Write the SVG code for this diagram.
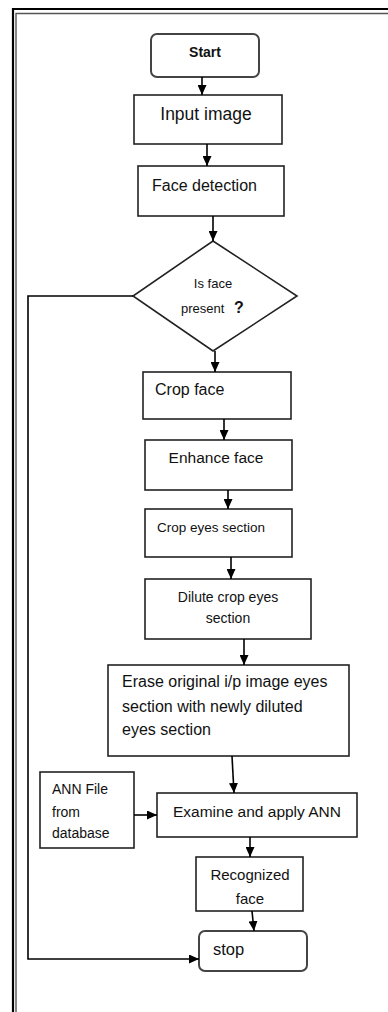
<svg xmlns="http://www.w3.org/2000/svg" width="388" height="1012" viewBox="0 0 388 1012">
  <defs>
    <marker id="arrow" viewBox="0 0 10 9" markerUnits="userSpaceOnUse" markerWidth="10" markerHeight="9" refX="10" refY="4.5" orient="auto">
      <path d="M0,0 L10,4.5 L0,9 z" fill="#000"/>
    </marker>
    <style>
      .box { fill: #fff; stroke: #222; stroke-width: 1.6; }
      .term { fill: #fff; stroke: #444; stroke-width: 2; }
      .lbl { font-family: "Liberation Sans", Arial, sans-serif; fill: #111; }
      .mid { text-anchor: middle; }
      .conn { fill: none; stroke: #000; stroke-width: 1.6; marker-end: url(#arrow); }
      .frame-outer { fill: none; stroke: #000; stroke-width: 2.2; }
      .frame-inner { fill: none; stroke: #555; stroke-width: 1.4; }
    </style>
  </defs>

  <rect width="388" height="1012" fill="#fff"/>

  <!-- page border (double rule) -->
  <g id="border">
    <path class="frame-outer" d="M13,1012 V9 H388"/>
    <path class="frame-inner" d="M16,1012 V13.5 H388"/>
  </g>

  <g id="start">
    <rect class="term" x="151" y="34" width="108" height="43" rx="6"/>
    <text class="lbl mid" x="205" y="57" font-size="14" font-weight="bold">Start</text>
  </g>

  <g id="input-image">
    <rect class="box" x="134" y="95" width="148" height="49"/>
    <text class="lbl mid" x="206" y="119.5" font-size="17.5">Input image</text>
  </g>

  <g id="face-detection">
    <rect class="box" x="138" y="166" width="146" height="50"/>
    <text class="lbl" x="152" y="191" font-size="16">Face detection</text>
  </g>

  <g id="is-face-present">
    <polygon class="box" points="213,241 297,296 213,351 133,296"/>
    <text class="lbl mid" x="213" y="288" font-size="13">Is face</text>
    <text class="lbl" x="181" y="313" font-size="13">present</text>
    <text class="lbl" x="234" y="313" font-size="16" font-weight="bold">?</text>
  </g>

  <g id="crop-face">
    <rect class="box" x="143" y="372" width="148" height="47"/>
    <text class="lbl" x="155" y="395" font-size="16">Crop face</text>
  </g>

  <g id="enhance-face">
    <rect class="box" x="145" y="440" width="147" height="50"/>
    <text class="lbl mid" x="216" y="463" font-size="15.5">Enhance face</text>
  </g>

  <g id="crop-eyes">
    <rect class="box" x="145" y="509" width="147" height="48"/>
    <text class="lbl" x="157" y="532" font-size="13.5">Crop eyes section</text>
  </g>

  <g id="dilute-eyes">
    <rect class="box" x="145" y="579" width="166" height="60"/>
    <text class="lbl mid" x="228" y="602" font-size="14">Dilute crop eyes</text>
    <text class="lbl mid" x="228" y="623" font-size="14">section</text>
  </g>

  <g id="erase-eyes">
    <rect class="box" x="108" y="665" width="241" height="91"/>
    <text class="lbl" x="122" y="687" font-size="16">Erase original i/p image eyes</text>
    <text class="lbl" x="122" y="712" font-size="16">section with newly diluted</text>
    <text class="lbl" x="122" y="735" font-size="16">eyes section</text>
  </g>

  <g id="ann-file">
    <rect class="box" x="40" y="772" width="94" height="76"/>
    <text class="lbl" x="52" y="794" font-size="14">ANN File</text>
    <text class="lbl" x="52" y="817" font-size="14">from</text>
    <text class="lbl" x="52" y="838" font-size="14">database</text>
  </g>

  <g id="examine-ann">
    <rect class="box" x="157" y="793" width="200" height="44"/>
    <text class="lbl mid" x="257" y="817" font-size="15.5">Examine and apply ANN</text>
  </g>

  <g id="recognized-face">
    <rect class="box" x="196" y="857" width="107" height="54"/>
    <text class="lbl mid" x="250" y="880" font-size="15">Recognized</text>
    <text class="lbl mid" x="250" y="904" font-size="15">face</text>
  </g>

  <g id="stop">
    <rect class="term" x="199" y="931" width="108" height="40" rx="6"/>
    <text class="lbl" x="213" y="955" font-size="16.5">stop</text>
  </g>

  <g id="connectors">
    <path class="conn" d="M202,77 V95"/>
    <path class="conn" d="M207,144 V166"/>
    <path class="conn" d="M213,216 V241"/>
    <path class="conn" d="M215,351 V372"/>
    <path class="conn" d="M224,419 V440"/>
    <path class="conn" d="M228,490 V509"/>
    <path class="conn" d="M231,557 V579"/>
    <path class="conn" d="M244,639 V665"/>
    <path class="conn" d="M232,756 L234,793"/>
    <path class="conn" d="M134,815 H157"/>
    <path class="conn" d="M250,837 V857"/>
    <path class="conn" d="M252,911 L254,931"/>
    <path class="conn" d="M133,296 H28 V959 H199"/>
  </g>
</svg>
